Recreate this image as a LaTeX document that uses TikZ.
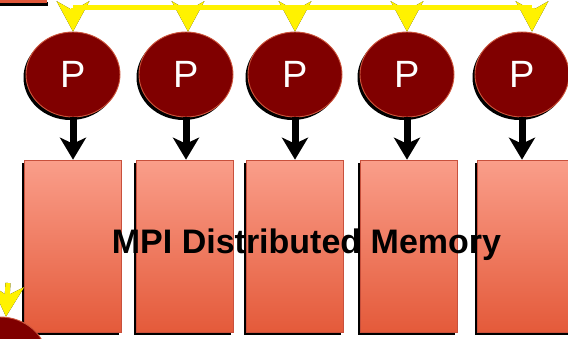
\documentclass[tikz,border=0pt]{standalone}
\usepackage{fontspec}
\setmainfont{Liberation Sans}
\usetikzlibrary{shapes.geometric,arrows.meta,shadows}
\definecolor{procred}{RGB}{128,0,0}
\definecolor{procedge}{RGB}{205,85,60}
\definecolor{boxtop}{RGB}{250,158,138}
\definecolor{boxbot}{RGB}{228,90,58}
\definecolor{boxedge}{RGB}{200,80,60}
\definecolor{barred}{RGB}{224,87,58}
\begin{document}
\begin{tikzpicture}[x=1pt,y=-1pt,
  proc/.style={ellipse, minimum width=94pt, minimum height=85pt, fill=procred,
    draw=procedge, line width=0.9pt, inner sep=0pt, text=white,
    font=\fontsize{38}{38}\selectfont,
    drop shadow={shadow xshift=-2.5pt, shadow yshift=-3pt, fill=black, opacity=1}},
  membox/.style={rectangle, minimum width=97pt, minimum height=172pt,
    top color=boxtop, bottom color=boxbot, draw=boxedge, line width=0.6pt, inner sep=0pt,
    drop shadow={shadow xshift=-2.5pt, shadow yshift=-3pt, fill=black, opacity=1}},
  downarrow/.style={black, line width=7pt, -{Stealth[length=22pt, width=26pt, inset=6pt]}},
  yarrow/.style={yellow, line width=5pt, -{Stealth[length=30pt, width=32pt, inset=9pt]}},
  yshadow/.style={black, line width=5pt, -{Stealth[length=30pt, width=32pt, inset=9pt]}},
]
\useasboundingbox (0,0) rectangle (568,338);

% partial items cut off at the edges
\fill[black] (0,2) rectangle (48,5.5);
\fill[barred] (0,0) rectangle (47,3);

% memory boxes
\node[membox] (m1) at (72.5,246) {};
\node[membox] (m2) at (185,246) {};
\node[membox] (m3) at (295,246) {};
\node[membox] (m4) at (409,246) {};
\node[membox] (m5) at (525.5,246) {};

% processors
\node[proc] (p1) at (73,74.5) {P};
\node[proc] (p2) at (186,74.5) {P};
\node[proc] (p3) at (295,74.5) {P};
\node[proc] (p4) at (407,74.5) {P};
\node[proc] (p5) at (522,74.5) {P};
\node[proc] (p0) at (0,359.5) {};

% arrows processor -> memory
\foreach \i in {1,...,5} {
  \draw[downarrow] (p\i.south) -- (p\i.south |- m\i.north);
}

% yellow bus
\coordinate (b1) at (73,7.5);
\coordinate (b2) at (188,7.5);
\coordinate (b3) at (295,7.5);
\coordinate (b4) at (407,7.5);
\coordinate (b5) at (532,7.5);
\coordinate (b0) at (8,283);
\begin{scope}[shift={(-2.5,3)}]
  \draw[black, line width=5pt] (b1) -- (b5);
  \foreach \i/\t in {1/0,2/2,3/0,4/0,5/10} {
    \draw[yshadow] (b\i) -- ([xshift=\t pt]p\i.north);
  }
  \draw[yshadow] (b0) -- ([xshift=6pt]p0.north);
\end{scope}
\draw[yellow, line width=5pt] (b1) -- (b5);
\foreach \i/\t in {1/0,2/2,3/0,4/0,5/10} {
  \draw[yarrow] (b\i) -- ([xshift=\t pt]p\i.north);
}
\draw[yarrow] (b0) -- ([xshift=6pt]p0.north);

% caption
\node[font=\fontsize{34}{34}\selectfont\bfseries, anchor=base, inner sep=0pt] (cap) at (306.5,253) {MPI Distributed Memory};
\end{tikzpicture}
\end{document}
